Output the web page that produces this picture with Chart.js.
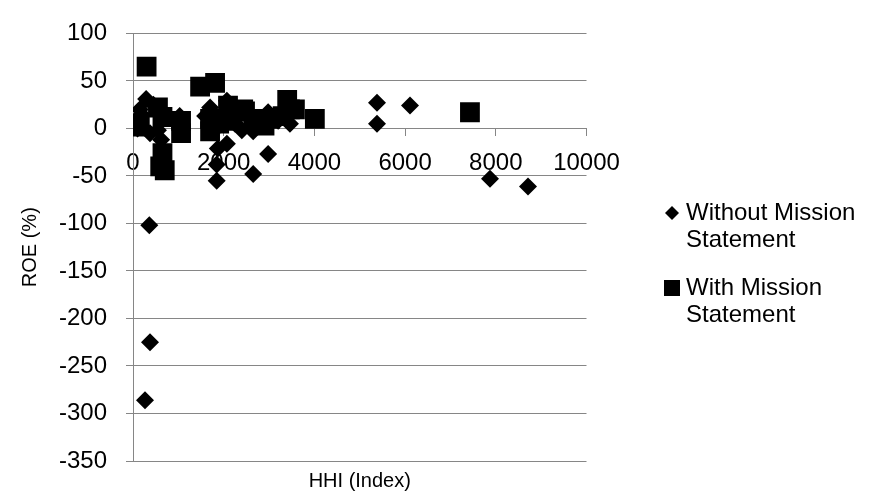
<!DOCTYPE html>
<html lang="en">
<head>
  <meta charset="UTF-8">
  <title>ROE vs HHI</title>
  <script src="https://cdn.jsdelivr.net/npm/chart.js"></script>
  <style>
    body { margin: 0; background: #fff; }
    #wrap { width: 872px; height: 495px; }
  </style>
</head>
<body>
  <div id="wrap"><canvas id="chart" width="872" height="495"></canvas></div>

  <script>
    // Without Mission Statement (diamonds)
    const withoutX = [45, 100, 150, 200, 290, 375, 450, 550, 620, 1030, 1050, 360, 375, 265, 1590, 1700, 1870, 2070, 2070, 1845,
                      1845, 1900, 2250, 2400, 2650, 2650, 2980, 2980, 3020, 3200, 3460, 5380, 5380, 6108, 7872, 8710];
    const withoutY = [8, 0, 20, 14, 31, -5, 25, -2, -12, 13, 2, -102, -225, -286, 13, 22, -21, 29, -16, -38,
                      -55, 3, 5, -2, -3, -48, 17, -27, 12, 8, 5, 5, 27, 24, -53, -61];

    // With Mission Statement (squares)
    const withX = [150, 300, 550, 650, 700, 600, 650, 1060, 1060, 1480, 1810, 1700, 1700, 1900, 2095, 2200, 2430, 2470,
                   2650, 2900, 3020, 3300, 3400, 3460, 3570, 4010, 7430];
    const withY = [2, 65, 22, 12, -44, -40, -26, -5, 8, 44, 48, 10, -3, 5, 24, 8, 20, 18,
                   10, 3, 10, 13, 30, 20, 20, 10, 17];

    const seriesNames = [['Without Mission', 'Statement'], ['With Mission', 'Statement']];
    const xTitle = 'HHI (Index)';
    const yTitle = 'ROE (%)';

    const FONT = '"Liberation Sans", Arial, sans-serif';
    const GRID = '#868686';

    // axis titles + legend drawn by hand (legend labels wrap onto two lines)
    const extras = {
      id: 'extras',
      afterDraw(chart) {
        const ctx = chart.ctx;
        const area = chart.chartArea;
        ctx.save();
        ctx.fillStyle = '#000';
        ctx.textBaseline = 'middle';
        ctx.font = '20px ' + FONT;
        ctx.textAlign = 'center';
        ctx.fillText(xTitle, (area.left + area.right) / 2, 481);
        ctx.translate(30, (area.top + area.bottom) / 2);
        ctx.rotate(-Math.PI / 2);
        ctx.fillText(yTitle, 0, 0);
        ctx.restore();

        ctx.save();
        ctx.fillStyle = '#000';
        ctx.font = '24px ' + FONT;
        ctx.textAlign = 'left';
        ctx.textBaseline = 'middle';
        // diamond
        let mx = 672, my = 213;
        ctx.beginPath();
        ctx.moveTo(mx, my - 7); ctx.lineTo(mx + 7, my); ctx.lineTo(mx, my + 7); ctx.lineTo(mx - 7, my);
        ctx.closePath(); ctx.fill();
        ctx.fillText(seriesNames[0][0], 686, 213);
        ctx.fillText(seriesNames[0][1], 686, 240);
        // square
        my = 288;
        ctx.fillRect(mx - 8, my - 8, 16, 16);
        ctx.fillText(seriesNames[1][0], 686, 288);
        ctx.fillText(seriesNames[1][1], 686, 315);
        ctx.restore();
      }
    };

    const ctx = document.getElementById('chart').getContext('2d');
    const chart = new Chart(ctx, {
      type: 'scatter',
      data: {
        datasets: [
          {
            label: seriesNames[0].join(' '),
            data: withoutX.map((x, i) => ({ x: x, y: withoutY[i] })),
            pointStyle: 'rectRot', pointRadius: 9, pointHoverRadius: 9,
            backgroundColor: '#000', borderColor: '#000', borderWidth: 0
          },
          {
            label: seriesNames[1].join(' '),
            data: withX.map((x, i) => ({ x: x, y: withY[i] })),
            pointStyle: 'rect', pointRadius: 14, pointHoverRadius: 14,
            backgroundColor: '#000', borderColor: '#000', borderWidth: 0
          }
        ]
      },
      options: {
        responsive: false,
        animation: false,
        layout: { padding: { left: 0, top: 22.5, right: 285.5, bottom: 34 } },
        plugins: { legend: { display: false }, tooltip: { enabled: false } },
        scales: {
          x: {
            type: 'linear',
            position: { y: 0 },
            min: 0, max: 10000,
            ticks: {
              stepSize: 2000, padding: 14, color: '#000', font: { family: FONT, size: 24 },
              callback: v => String(v)
            },
            grid: { drawOnChartArea: false, drawTicks: true, tickLength: 7, color: GRID },
            border: { color: GRID }
          },
          y: {
            min: -350, max: 100,
            ticks: { stepSize: 50, padding: 19, color: '#000', font: { family: FONT, size: 24 } },
            grid: { color: GRID, tickLength: 7 },
            border: { color: GRID },
            afterFit(scale) { scale.width = 133; }
          }
        }
      },
      plugins: [extras]
    });
  </script>
</body>
</html>
